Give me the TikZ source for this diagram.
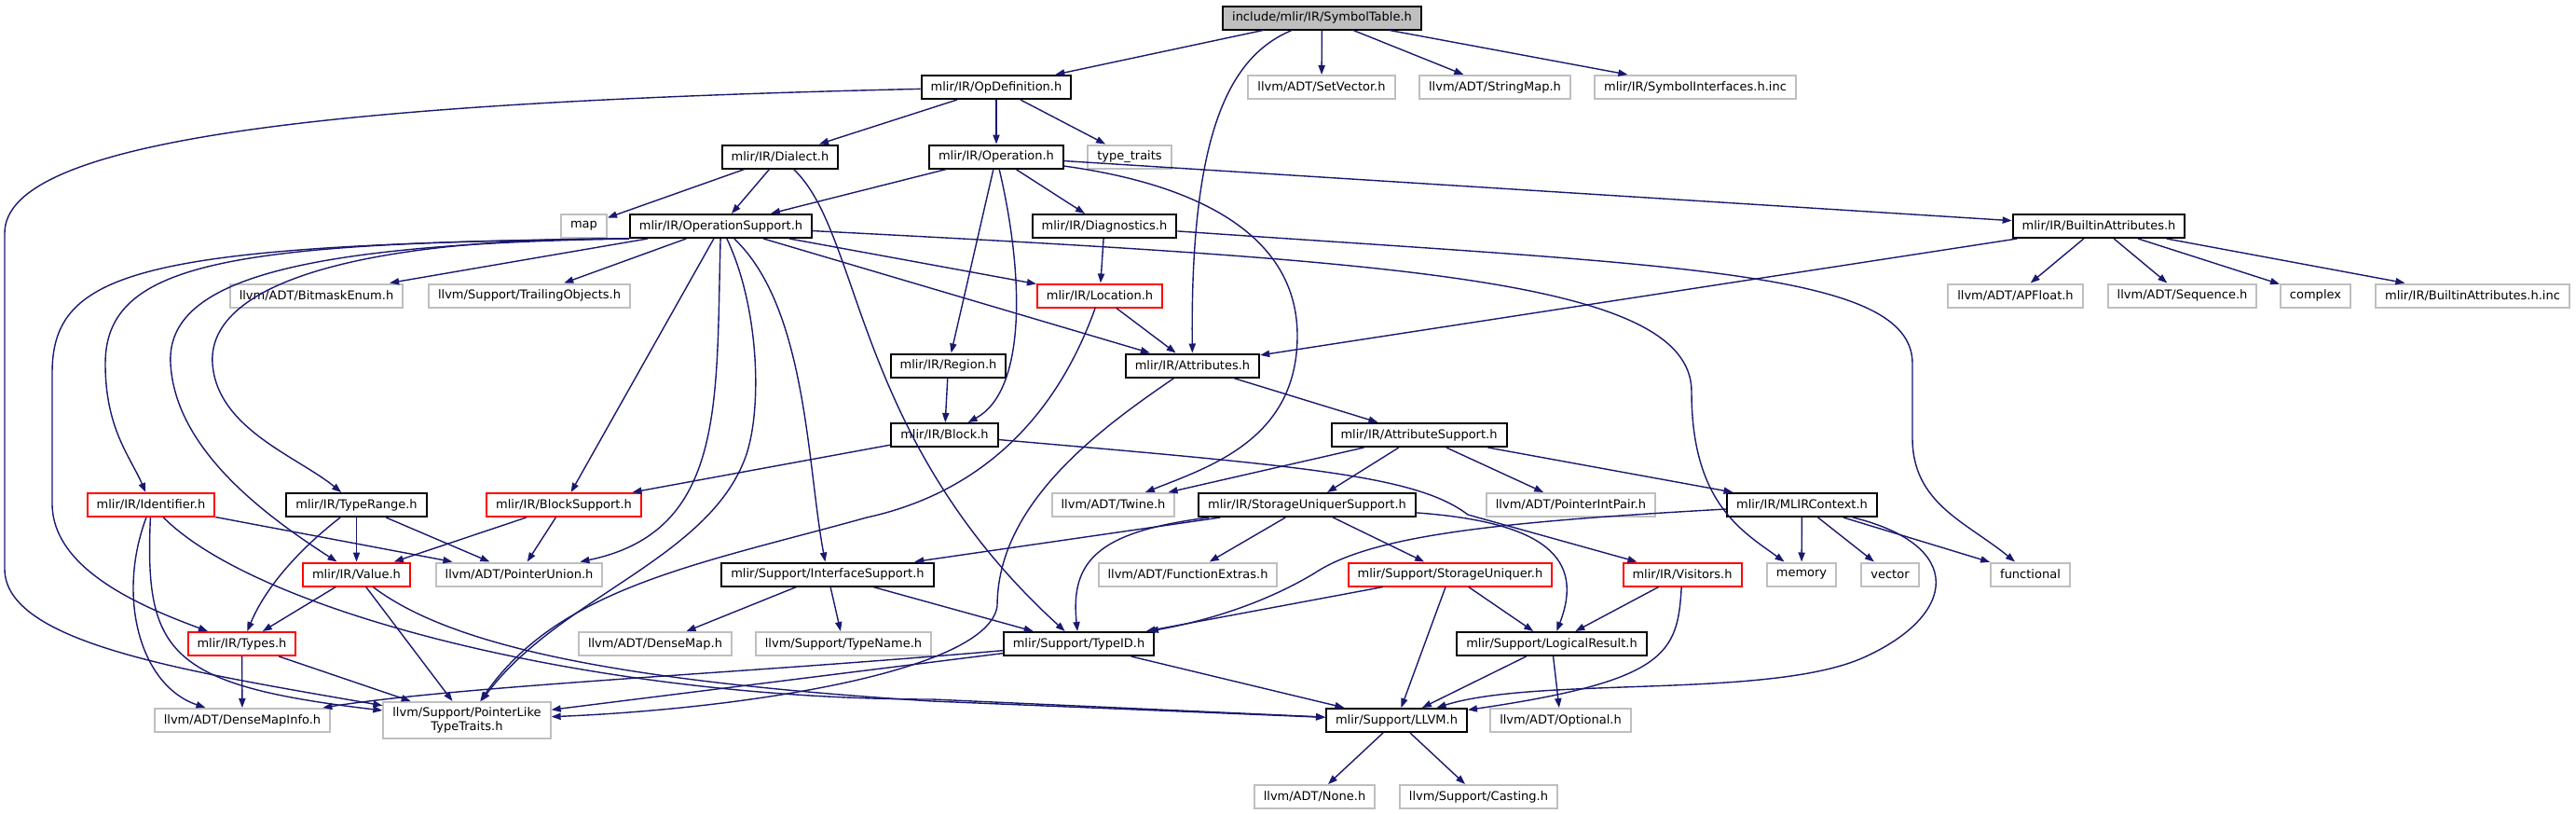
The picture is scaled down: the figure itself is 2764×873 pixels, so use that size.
\documentclass[tikz,border=0pt]{standalone}
\usepackage{fontspec}
\setmainfont{DejaVu Sans}
\usetikzlibrary{arrows.meta}
\definecolor{edgeblue}{HTML}{191970}
\definecolor{boxgrey}{HTML}{BFBFBF}
\definecolor{boxred}{HTML}{FF0000}
\begin{document}
\begin{tikzpicture}[
    x=0.5pt, y=-0.5pt,
    font=\fontsize{6.5pt}{7.5pt}\selectfont,
    box/.style={rectangle, draw=black, fill=white, line width=1pt, inner xsep=5pt, inner ysep=0pt, minimum height=12.5pt},
    sysbox/.style={box, draw=boxgrey},
    redbox/.style={box, draw=boxred},
    rootbox/.style={box, fill=boxgrey},
    arrow/.style={->, >={Triangle[length=5pt,width=3.6pt]}, draw=edgeblue, line width=0.7pt}
]
    \path[fill=white, use as bounding box] (0,0) rectangle (2764,873);

    \node[rootbox] (symtab) at (1418.5,19) {include/mlir/IR/SymbolTable.h};
    \node[box] (opdef) at (1069,93.5) {mlir/IR/OpDefinition.h};
    \node[sysbox] (setvec) at (1418,93.5) {llvm/ADT/SetVector.h};
    \node[sysbox] (strmap) at (1604,93.5) {llvm/ADT/StringMap.h};
    \node[sysbox] (symif) at (1819,93.5) {mlir/IR/SymbolInterfaces.h.inc};
    \node[box] (dialect) at (837,168) {mlir/IR/Dialect.h};
    \node[box] (operation) at (1069,168) {mlir/IR/Operation.h};
    \node[sysbox] (typetraits) at (1212,168) {type\_traits};
    \node[sysbox] (map) at (626.5,242.5) {map};
    \node[box] (opsupport) at (773.5,242.5) {mlir/IR/OperationSupport.h};
    \node[box] (diag) at (1185,242.5) {mlir/IR/Diagnostics.h};
    \node[box] (builtinattr) at (2252,242.5) {mlir/IR/BuiltinAttributes.h};
    \node[sysbox] (bitmask) at (339.5,317) {llvm/ADT/BitmaskEnum.h};
    \node[sysbox] (trailing) at (568,317) {llvm/Support/TrailingObjects.h};
    \node[redbox] (location) at (1180,317) {mlir/IR/Location.h};
    \node[sysbox] (apfloat) at (2162.5,317) {llvm/ADT/APFloat.h};
    \node[sysbox] (sequence) at (2341.5,317) {llvm/ADT/Sequence.h};
    \node[sysbox] (complex) at (2484.5,317) {complex};
    \node[sysbox] (builtininc) at (2653,317) {mlir/IR/BuiltinAttributes.h.inc};
    \node[box] (region) at (1017.5,392) {mlir/IR/Region.h};
    \node[box] (attributes) at (1279.5,392) {mlir/IR/Attributes.h};
    \node[box] (block) at (1013.5,466.5) {mlir/IR/Block.h};
    \node[box] (attrsupport) at (1522.5,466.5) {mlir/IR/AttributeSupport.h};
    \node[redbox] (identifier) at (162,541.5) {mlir/IR/Identifier.h};
    \node[box] (typerange) at (382.5,541.5) {mlir/IR/TypeRange.h};
    \node[redbox] (blocksupport) at (605,541.5) {mlir/IR/BlockSupport.h};
    \node[sysbox] (twine) at (1194.5,541.5) {llvm/ADT/Twine.h};
    \node[box] (susupport) at (1402.5,541.5) {mlir/IR/StorageUniquerSupport.h};
    \node[sysbox] (ptrintpair) at (1685.5,541.5) {llvm/ADT/PointerIntPair.h};
    \node[box] (context) at (1933.5,541.5) {mlir/IR/MLIRContext.h};
    \node[redbox] (value) at (382.5,616) {mlir/IR/Value.h};
    \node[sysbox] (ptrunion) at (557,616) {llvm/ADT/PointerUnion.h};
    \node[box] (ifsupport) at (888,616) {mlir/Support/InterfaceSupport.h};
    \node[sysbox] (funcextras) at (1274.5,616) {llvm/ADT/FunctionExtras.h};
    \node[redbox] (uniquer) at (1556,616) {mlir/Support/StorageUniquer.h};
    \node[redbox] (visitors) at (1805,616) {mlir/IR/Visitors.h};
    \node[sysbox] (memory) at (1933,616) {memory};
    \node[sysbox] (vector) at (2028,616) {vector};
    \node[sysbox] (functional) at (2178.5,616) {functional};
    \node[redbox] (types) at (259.5,690.5) {mlir/IR/Types.h};
    \node[sysbox] (densemap) at (703,690.5) {llvm/ADT/DenseMap.h};
    \node[sysbox] (typename) at (905,690.5) {llvm/Support/TypeName.h};
    \node[box] (typeid) at (1157.5,690.5) {mlir/Support/TypeID.h};
    \node[box] (logical) at (1665,690.5) {mlir/Support/LogicalResult.h};
    \node[sysbox] (densemapinfo) at (260,772.5) {llvm/ADT/DenseMapInfo.h};
    \node[sysbox, minimum height=19.5pt, align=center] (ptrlike) at (501,772.5) {llvm/Support/PointerLike\\TypeTraits.h};
    \node[box] (llvmh) at (1498.5,772.5) {mlir/Support/LLVM.h};
    \node[sysbox] (optional) at (1674.5,772.5) {llvm/ADT/Optional.h};
    \node[sysbox] (nonehdr) at (1410.5,854.5) {llvm/ADT/None.h};
    \node[sysbox] (casting) at (1586.5,854.5) {llvm/Support/Casting.h};

    \draw[arrow] (symtab) -- (opdef);
    \draw[arrow] (symtab) .. controls (1320,60) and (1277,140) .. (attributes);
    \draw[arrow] (symtab) -- (setvec);
    \draw[arrow] (symtab) -- (strmap);
    \draw[arrow] (symtab) -- (symif);

    \draw[arrow] (opdef) .. controls (350,110) and (5,150) .. (5,250) -- (5,610) .. controls (5,690) and (200,720) .. (ptrlike);
    \draw[arrow] (opdef) -- (dialect);
    \draw[arrow] (opdef) -- (operation);
    \draw[arrow] (opdef) -- (typetraits);

    \draw[arrow] (dialect) -- (map);
    \draw[arrow] (dialect) -- (opsupport);
    \draw[arrow] (dialect) .. controls (925,250) and (915,470) .. (typeid);

    \draw[arrow] (operation) -- (opsupport);
    \draw[arrow] (operation) -- (diag);
    \draw[arrow] (operation) -- (region);
    \draw[arrow] (operation) .. controls (1100,300) and (1100,420) .. (block);
    \draw[arrow] (operation) .. controls (1300,200) and (1392,260) .. (1392,360) .. controls (1392,470) and (1300,500) .. (twine);
    \draw[arrow] (operation) -- (builtinattr);

    \draw[arrow] (opsupport) -- (bitmask);
    \draw[arrow] (opsupport) -- (trailing);
    \draw[arrow] (opsupport) -- (location);
    \draw[arrow] (opsupport) -- (attributes);
    \draw[arrow] (opsupport) .. controls (1500,280) and (1815,300) .. (1815,420) .. controls (1815,540) and (1870,570) .. (memory);
    \draw[arrow] (opsupport.south west) .. controls (150,262) and (56,290) .. (56,400) -- (56,540) .. controls (56,610) and (150,650) .. (types);
    \draw[arrow] (opsupport.south west) .. controls (250,260) and (113,280) .. (113,390) .. controls (113,460) and (140,490) .. (identifier);
    \draw[arrow] (opsupport.south west) .. controls (320,262) and (178,300) .. (183,390) .. controls (188,480) and (280,550) .. (value);
    \draw[arrow] (opsupport.south west) .. controls (400,255) and (222,300) .. (228,390) .. controls (233,460) and (320,490) .. (typerange);
    \draw[arrow] (opsupport) -- (blocksupport);
    \draw[arrow] (opsupport) .. controls (768,430) and (780,570) .. (ptrunion);
    \draw[arrow] (opsupport) .. controls (815,330) and (818,440) .. (800,490) .. controls (760,600) and (600,640) .. (ptrlike);
    \draw[arrow] (opsupport) .. controls (866,330) and (866,500) .. (ifsupport);

    \draw[arrow] (diag) -- (location);
    \draw[arrow] (diag) .. controls (1800,285) and (2052,290) .. (2052,390) -- (2052,470) .. controls (2052,540) and (2110,560) .. (functional);

    \draw[arrow] (builtinattr) -- (attributes);
    \draw[arrow] (builtinattr) -- (apfloat);
    \draw[arrow] (builtinattr) -- (sequence);
    \draw[arrow] (builtinattr) -- (complex);
    \draw[arrow] (builtinattr) -- (builtininc);

    \draw[arrow] (location) -- (attributes);
    \draw[arrow] (location) .. controls (1150,400) and (1090,520) .. (930,555) .. controls (750,605) and (600,630) .. (ptrlike);

    \draw[arrow] (region) -- (block);

    \draw[arrow] (attributes) -- (attrsupport);
    \draw[arrow] (attributes) .. controls (1180,460) and (1070,540) .. (1070,650) .. controls (1060,720) and (800,760) .. (ptrlike);

    \draw[arrow] (block) -- (blocksupport);
    \draw[arrow] (block) .. controls (1400,500) and (1520,510) .. (1575,552) -- (visitors);

    \draw[arrow] (attrsupport) -- (twine);
    \draw[arrow] (attrsupport) -- (susupport);
    \draw[arrow] (attrsupport) -- (ptrintpair);
    \draw[arrow] (attrsupport) -- (context);

    \draw[arrow] (identifier) -- (ptrunion);
    \draw[arrow] (identifier) .. controls (125,640) and (150,735) .. (densemapinfo);
    \draw[arrow] (identifier) .. controls (155,700) and (180,735) .. (ptrlike);
    \draw[arrow] (identifier) .. controls (280,660) and (650,750) .. (1000,750) -- (llvmh);

    \draw[arrow] (typerange) -- (value);
    \draw[arrow] (typerange) -- (ptrunion);
    \draw[arrow] (typerange) .. controls (320,590) and (285,630) .. (types);

    \draw[arrow] (blocksupport) -- (value);
    \draw[arrow] (blocksupport) -- (ptrunion);

    \draw[arrow] (susupport) -- (ifsupport);
    \draw[arrow] (susupport) .. controls (1180,570) and (1148,600) .. (typeid);
    \draw[arrow] (susupport) -- (funcextras);
    \draw[arrow] (susupport) -- (uniquer);
    \draw[arrow] (susupport) .. controls (1660,560) and (1700,600) .. (logical);

    \draw[arrow] (context) .. controls (1600,560) and (1470,575) .. (1410,615) .. controls (1360,645) and (1300,665) .. (typeid);
    \draw[arrow] (context) .. controls (2110,585) and (2100,660) .. (2000,705) .. controls (1900,750) and (1650,725) .. (llvmh);
    \draw[arrow] (context) -- (memory);
    \draw[arrow] (context) -- (vector);
    \draw[arrow] (context) -- (functional);

    \draw[arrow] (value) -- (types);
    \draw[arrow] (value) -- (ptrlike);
    \draw[arrow] (value) .. controls (480,690) and (650,730) .. (1000,752) -- (llvmh);

    \draw[arrow] (ifsupport) -- (densemap);
    \draw[arrow] (ifsupport) -- (typename);
    \draw[arrow] (ifsupport) -- (typeid);

    \draw[arrow] (uniquer) -- (typeid);
    \draw[arrow] (uniquer) -- (llvmh);
    \draw[arrow] (uniquer) -- (logical);

    \draw[arrow] (visitors) -- (logical);
    \draw[arrow] (visitors) .. controls (1800,700) and (1790,730) .. (llvmh);

    \draw[arrow] (types) -- (densemapinfo);
    \draw[arrow] (types) -- (ptrlike);

    \draw[arrow] (typeid) .. controls (800,722) and (500,735) .. (densemapinfo);
    \draw[arrow] (typeid) -- (ptrlike);
    \draw[arrow] (typeid) -- (llvmh);

    \draw[arrow] (logical) -- (llvmh);
    \draw[arrow] (logical) -- (optional);

    \draw[arrow] (llvmh) -- (nonehdr);
    \draw[arrow] (llvmh) -- (casting);
\end{tikzpicture}
\end{document}
